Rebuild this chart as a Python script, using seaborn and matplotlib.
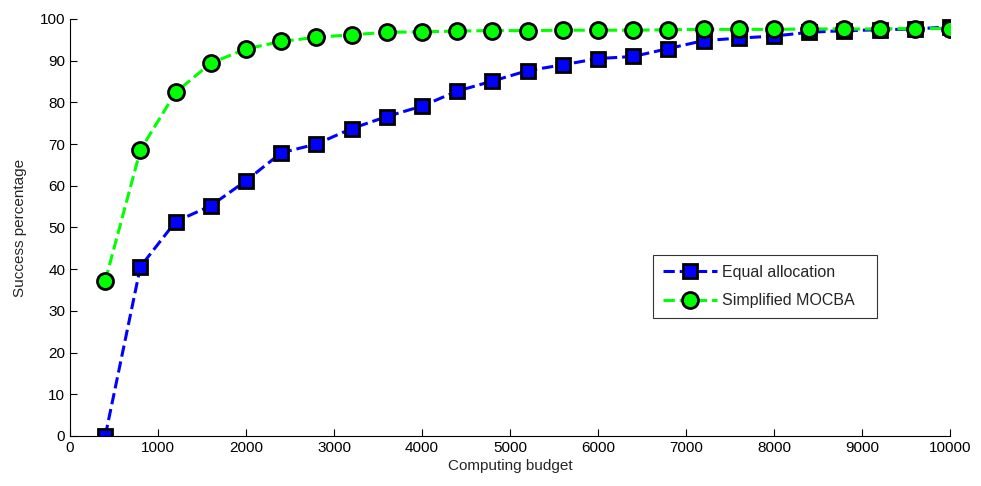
import numpy as np
import pandas as pd
import matplotlib
matplotlib.use("Agg")
import matplotlib.pyplot as plt
import seaborn as sns

budget = [400, 800, 1200, 1600, 2000, 2400, 2800, 3200, 3600, 4000, 4400, 4800, 5200,
          5600, 6000, 6400, 6800, 7200, 7600, 8000, 8400, 8800, 9200, 9600, 10000]
equal_alloc = [0.0, 40.6, 51.4, 55.2, 61.2, 67.9, 70.0, 73.7, 76.6, 79.1, 82.7, 85.1, 87.6,
               89.0, 90.5, 91.0, 92.9, 94.8, 95.4, 95.9, 96.8, 97.2, 97.4, 97.6, 98.1]
mocba = [37.2, 68.6, 82.4, 89.4, 92.8, 94.6, 95.6, 96.2, 96.8, 96.9, 97.1, 97.2, 97.2,
         97.3, 97.3, 97.3, 97.4, 97.5, 97.5, 97.5, 97.6, 97.6, 97.6, 97.7, 97.7]

df = pd.DataFrame({"budget": budget, "equal": equal_alloc, "mocba": mocba})

sns.set_style("ticks")
plt.rcParams['font.family'] = ['Liberation Sans', 'DejaVu Sans']

fig = plt.figure(figsize=(9.81, 4.86), dpi=100)
ax = fig.add_axes([0.0714, 0.103, 0.897, 0.858])

sns.lineplot(data=df, x="budget", y="equal", ax=ax, color="#0000ff", linestyle="--",
             linewidth=2.2, marker="s", markersize=9.5, markerfacecolor="#0000ff",
             markeredgecolor="black", markeredgewidth=2.0, label="Equal allocation")
sns.lineplot(data=df, x="budget", y="mocba", ax=ax, color="#00ff00", linestyle="--",
             linewidth=2.2, marker="o", markersize=11.5, markerfacecolor="#00ff00",
             markeredgecolor="black", markeredgewidth=2.0, label="Simplified MOCBA")

ax.set_xlim(0, 10000)
ax.set_ylim(0, 100)
ax.set_xticks(np.arange(0, 10001, 1000))
ax.set_yticks(np.arange(0, 101, 10))
ax.tick_params(direction="in", length=5, width=0.8, labelsize=11, colors="black")
for s in ["top", "right"]:
    ax.spines[s].set_visible(False)
for s in ["left", "bottom"]:
    ax.spines[s].set_linewidth(0.8)
    ax.spines[s].set_color("black")
for lab in ax.get_xticklabels() + ax.get_yticklabels():
    lab.set_clip_on(False)

ax.set_xlabel("Computing budget", fontsize=11, labelpad=3)
ax.set_ylabel("Success percentage", fontsize=11, labelpad=9)

# legend box placed like the MATLAB one
leg = ax.legend(loc="lower left", bbox_to_anchor=(0.6625, 0.283, 0.2545, 0.149),
                mode="expand", frameon=True, fancybox=False, edgecolor="black",
                fontsize=11.5, handlelength=3.4, handletextpad=0.35, borderaxespad=0,
                borderpad=0.6, labelspacing=0.85)
leg.get_frame().set_linewidth(0.8)

fig.savefig("out.png", dpi=100)
